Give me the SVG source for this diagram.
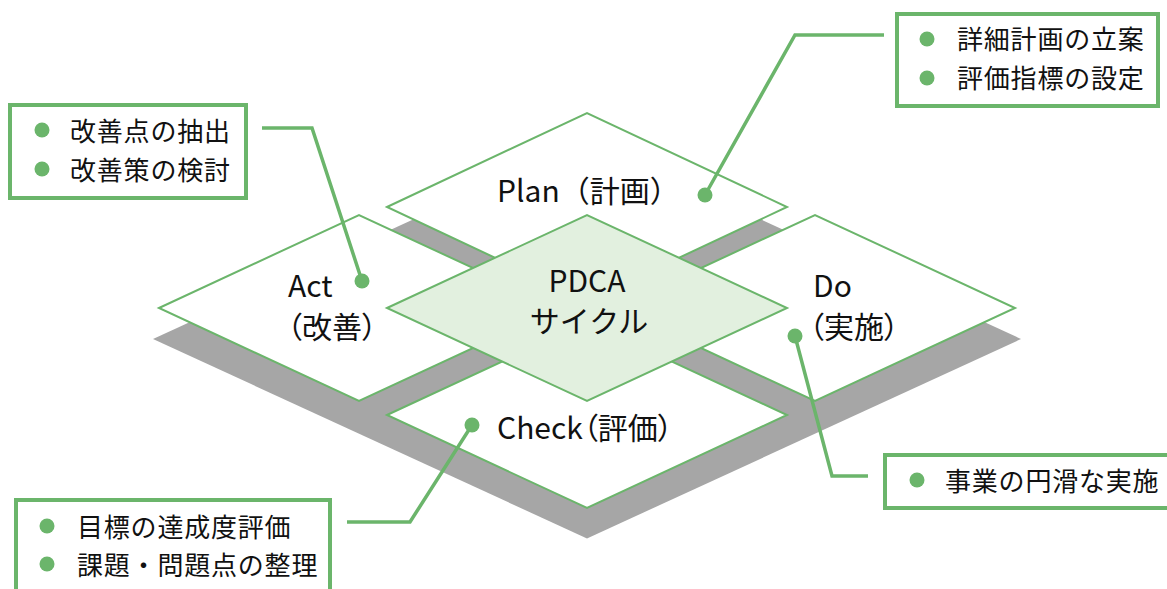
<svg xmlns="http://www.w3.org/2000/svg" width="1167" height="589" viewBox="0 0 1167 589">
<style>
.dia{fill:#ffffff;stroke:#6BB56B;stroke-width:2;stroke-linejoin:miter}
.ctr{fill:#E2F0DF;stroke:#6BB56B;stroke-width:2}
.box{fill:#ffffff;stroke:#6BB56B;stroke-width:4}
.con{fill:none;stroke:#6BB56B;stroke-width:3.5;stroke-linejoin:miter}
.dot{fill:#6BB56B}
.lbl{font-family:"Noto Sans CJK JP","Noto Sans",sans-serif;font-size:30px;fill:#111111}
.itm{font-family:"Noto Sans CJK JP",sans-serif;font-size:26px;letter-spacing:0.8px;fill:#111111}
.palt{font-feature-settings:"palt"}
</style>
<rect width="1167" height="589" fill="#ffffff"/>
<polygon id="shadow" points="153,339 587,139.5 1021,339 587,538.5" fill="#A6A6A6"/>
<g id="plan">
<polygon class="dia" points="387,207 587,113 787,207 587,301"/>
<text class="lbl" x="497" y="202">Plan（計画）</text>
</g>
<g id="act">
<polygon class="dia" points="159,308 359,215 559,308 359,401"/>
<text class="lbl" x="288" y="297">Act</text>
<text class="lbl palt" x="287" y="338">（改善）</text>
</g>
<g id="do">
<polygon class="dia" points="615,308 815,215 1015,308 815,401"/>
<text class="lbl" x="813" y="297">Do</text>
<text class="lbl palt" x="809" y="338">（実施）</text>
</g>
<g id="check">
<polygon class="dia" points="387,415 587,322 787,415 587,508"/>
<text class="lbl palt" x="497" y="439">Check（評価）</text>
</g>
<g id="center">
<polygon class="ctr" points="387,308 587,215 787,308 587,401"/>
<text class="lbl" x="587" y="292" text-anchor="middle">PDCA</text>
<text class="lbl" x="589" y="332" text-anchor="middle">サイクル</text>
</g>
<g id="connectors">
<polyline class="con" points="884,35 795,35 705,195"/>
<circle class="dot" cx="705" cy="195" r="7.5"/>
<polyline class="con" points="262,128 312,128 362,281"/>
<circle class="dot" cx="362" cy="281" r="7.5"/>
<polyline class="con" points="347,522 410,522 472,425"/>
<circle class="dot" cx="472" cy="425" r="7.5"/>
<polyline class="con" points="868,476 832,476 795,336"/>
<circle class="dot" cx="795" cy="336" r="7.5"/>
</g>
<g id="box-plan">
<rect class="box" x="897" y="14" width="261" height="92"/>
<circle class="dot" cx="927" cy="39" r="7.5"/>
<circle class="dot" cx="927" cy="78" r="7.5"/>
<text class="itm" x="957" y="49">詳細計画の立案</text>
<text class="itm" x="957" y="88">評価指標の設定</text>
</g>
<g id="box-act">
<rect class="box" x="10" y="105" width="236" height="93"/>
<circle class="dot" cx="42" cy="130" r="7.5"/>
<circle class="dot" cx="42" cy="169" r="7.5"/>
<text class="itm" x="70" y="141">改善点の抽出</text>
<text class="itm" x="70" y="180">改善策の検討</text>
</g>
<g id="box-check">
<rect class="box" x="16" y="500" width="314" height="100"/>
<circle class="dot" cx="47" cy="526" r="7.5"/>
<circle class="dot" cx="47" cy="564" r="7.5"/>
<text class="itm" x="77" y="537">目標の達成度評価</text>
<text class="itm" x="77" y="575">課題・問題点の整理</text>
</g>
<g id="box-do">
<rect class="box" x="885" y="455" width="290" height="53"/>
<circle class="dot" cx="917" cy="480" r="7.5"/>
<text class="itm" x="945" y="491">事業の円滑な実施</text>
</g>
</svg>
